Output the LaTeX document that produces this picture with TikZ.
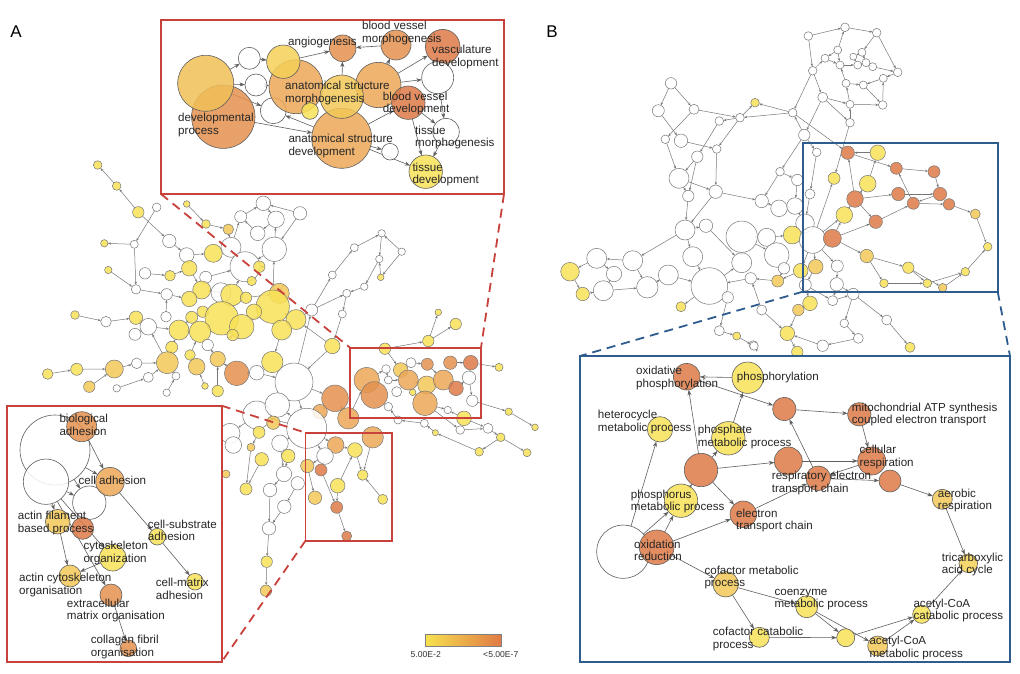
\documentclass[tikz,border=0pt]{standalone}
\usepackage{fontspec}
\setmainfont{Liberation Sans}
\usetikzlibrary{arrows.meta}
\definecolor{Y}{HTML}{F9E257}
\definecolor{YO}{HTML}{F3C858}
\definecolor{LO}{HTML}{ECA858}
\definecolor{O}{HTML}{E5914E}
\definecolor{DO}{HTML}{DE7B47}
\definecolor{W}{HTML}{FFFFFF}
\definecolor{edgec}{HTML}{777777}
\definecolor{redbox}{HTML}{C9413B}
\definecolor{bluebox}{HTML}{2E5C8E}
\pgfdeclarelayer{L1}\pgfdeclarelayer{L2}\pgfdeclarelayer{L3}\pgfdeclarelayer{L4}
\pgfsetlayers{L1,L2,L3,L4,main}
\tikzset{
  nd/.style={circle,draw=edgec,line width=0.5pt,inner sep=0pt,outer sep=0pt,fill opacity=0.85},
  ind/.style={circle,draw=edgec!80!black,line width=0.6pt,inner sep=0pt,outer sep=0pt,fill opacity=0.85},
  ed/.style={draw=edgec,line width=0.5pt,-{Stealth[length=3pt,width=2.4pt]}},
  ied/.style={draw=edgec!80!black,line width=0.6pt,-{Stealth[length=5.5pt,width=4pt]}},
  lab/.style={anchor=west,align=left,inner sep=0pt,text=black!85,font=\fontsize{11.6}{12.6}\selectfont},
  rbox/.style={draw=redbox,line width=1.8pt,inner sep=0pt,outer sep=0pt,anchor=north west},
  bbox/.style={draw=bluebox,line width=1.8pt,inner sep=0pt,outer sep=0pt,anchor=north west},
  rdash/.style={draw=redbox,line width=1.8pt,dash pattern=on 9pt off 6pt},
  bdash/.style={draw=bluebox,line width=1.8pt,dash pattern=on 9pt off 6pt}
}
\begin{document}
\begin{tikzpicture}[x=1pt,y=-1pt]
\useasboundingbox (0,0) rectangle (1020,673);
% ---------------- background networks: nodes ----------------
\begin{pgfonlayer}{L2}
\foreach \n/\x/\y/\r/\c in {
a1/97.7/165/4.3/Y, a2/116.7/186/4.3/Y, a3/138.3/212.3/5.7/Y, a4/156.7/207.3/4.3/W, a5/186.7/204/3.3/Y, a6/206/224/4.3/Y, a7/228.3/229.3/5.3/YO, a8/240.7/216.7/6/W, a9/263.3/203.3/7.3/W, a10/276/219.3/8.3/W, a11/257.7/233.3/7.3/W, a12/169.3/241/6.7/W, a13/104.3/243.3/3.7/Y, a14/134.3/244.3/4/W, a15/108.3/270/3.7/Y, a16/186.7/255/7.3/W, a17/213.3/253.3/9/Y, a18/231/247.3/10/W, a19/274.3/249.3/12.3/W, a20/189.3/268.3/7.7/Y, a21/245/266.7/15/W, a22/205.7/277.3/6/W, a23/145/273.3/5.7/W, a24/170/275.7/5.3/Y, a25/259.3/266.7/5.7/Y, a26/251.7/281/4.7/Y, a27/136/289.3/4.7/W, a28/166.7/294.3/5.7/W, a29/201.7/290/9/Y, a30/189.3/299/7.7/Y, a31/221/292.7/10/W, a32/231.7/295/11/Y, a33/246/297.7/5.7/Y, a34/279.3/293.3/10/YO, a35/272.7/306.7/16.7/Y, a36/75/315/4.3/Y, a37/106/321.7/5.3/W, a38/136/317.7/6.7/Y, a39/166/316.7/5.3/W, a40/191.7/317.3/6/Y, a41/202.7/311.7/5.7/Y, a42/221.7/318.3/16.7/Y, a43/254/311.7/7.7/Y, a44/241.7/326.7/12.3/Y, a45/296/319.5/10/Y, a46/148.3/326.7/8.3/W, a47/135/334.3/6/W, a48/179/330/10/Y, a49/200/331.7/10.7/Y, a50/232.7/335/5.7/Y, a51/281.7/330/10/Y, a52/207.7/345/5.7/W, a53/171.7/347.3/6/Y, a54/167.3/362.7/11/YO, a55/190/355/5.3/Y, a56/196.7/366.7/8.3/YO, a57/217.7/359/7.7/YO, a58/236.7/373.3/12.3/O, a59/256.7/372.7/7.3/W, a60/272.3/362/10.7/Y, a61/47.7/374/5.3/Y, a62/76.7/369.3/6/Y, a63/114.3/369/9/YO, a64/136.7/363.3/5.3/W, a65/148.3/377.3/5/W, a66/176/376/4/W, a67/89.3/386.7/5.7/YO, a68/116.7/388.3/3.7/W, a69/166.7/392.7/3.7/W, a70/205/386/3.3/Y, a71/217.7/391/5.7/Y, a72/294/382/19/W, a73/300/213.3/6.7/W, a74/381.7/233.3/3.7/W, a75/354.3/247.7/4/W, a76/401.7/251.7/3.7/W, a77/379.3/259/3.7/W, a78/380.7/277.3/3.3/Y, a79/332.3/275/4/W, a80/364.3/286.7/3.7/W, a81/346.7/293.3/4/W, a82/311.7/310/6/W, a83/342.3/314/4/W, a84/332.3/346/7.7/Y, a85/438.3/312.3/3.3/Y, a86/455.7/324/5.7/Y, a87/428.3/341/5.7/Y, a88/385/348.7/5.7/Y, a89/499/367.3/4/Y, a90/335/398.3/13.3/O, a91/320/411.7/7.3/LO, a92/348.3/418.3/10.7/LO, a93/464/418.3/7.3/Y, a94/508.7/411.7/3.7/Y, a95/535/427.3/3.3/Y, a96/256.7/415/14/W, a97/277.3/405/12.3/W, a98/230/433.3/10/W, a99/259/432.3/6/Y, a100/273.3/422.7/6.7/YO, a101/306.7/428.3/20/W, a102/233.3/445/8.3/W, a103/251/447.3/4/YO, a104/280/443.3/8.3/W, a105/335.7/445/8.3/LO, a106/325/456/8.3/W, a107/355/450/7.3/Y, a108/372.7/437.3/10.7/LO, a109/261.7/459.3/6.7/Y, a110/288.3/456/6.7/Y, a111/226/474/4/YO, a112/307.3/466/6.7/YO, a113/321/470/6/DO, a114/284/474/7.7/W, a115/297.7/483.3/6.7/W, a116/337.7/485.7/7.3/Y, a117/362.7/475/5.3/Y, a118/246/489/6/Y, a119/270/490/6.7/W, a120/315/497.7/6.7/YO, a121/382.7/499.3/5/Y, a122/336.7/507.3/6/DO, a123/284.3/506.7/6.7/W, a124/269/528.3/6.7/W, a125/346.7/536/5/DO, a126/266.7/561.7/5.7/Y, a127/266/590.7/5.7/YO, a128/366.7/380/12.7/LO, a129/374.3/395/13.3/O, a130/386/369/4.3/W, a131/388.3/380/4/W, a132/396.7/391.7/5/W, a133/400.7/370/7.3/YO, a134/408.3/380/10/LO, a135/411/362.7/5/W, a136/427.3/364.3/6/O, a137/412.7/392.3/3.3/Y, a138/426.7/385/9/YO, a139/425/403.3/12.3/LO, a140/388.3/406.7/4.3/W, a141/447.7/410/3.7/W, a142/450.3/362.7/6.7/O, a143/443.3/380/10/LO, a144/456/388.3/7.3/DO, a145/470.7/362.7/7.3/DO, a146/469/377.7/6.7/W, a147/472.3/400.7/5.7/W, a148/488/428.3/5/W, a149/500.7/437.3/4.3/Y, a150/479.2/451.7/4.3/Y, a151/527/452.7/4/Y, a152/460.2/430/4.3/W, a153/435.4/432.7/3/Y, a154/424.3/423.3/4/W, a155/398/420/4/W}
{\node[nd,fill=\c,minimum size=2*\r*1pt] (\n) at (\x,\y) {};}
\foreach \n/\x/\y/\r/\c in {
b1/845/27.3/4.3/W, b2/808.3/36/4.3/W, b3/876.7/32.7/4.3/W, b4/837.7/50/4/W, b5/862/52.3/4/W, b6/825/58.3/4/W, b7/840/65/4/W, b8/853.3/56.7/3.5/W, b9/857.7/65/4/W, b10/866/62.7/4/W, b11/872.7/66.7/4/W, b12/812.7/70.7/4.3/W, b13/897.7/72.3/4.3/W, b14/883.3/78.3/4/W, b15/846/83.3/4/W, b16/863.3/85/4/W, b17/822.7/97.3/5/W, b18/850/104.3/4/W, b19/882.7/105/4.3/W, b20/792.7/112.7/4.3/W, b21/755/102.7/4.3/Y, b22/740/117.7/4.3/W, b23/850/122.7/4.3/W, b24/804.3/135/5.7/W, b25/816.7/152.3/4.3/W, b26/847.7/152.7/6.7/DO, b27/877.7/152.7/7.7/Y, b28/896.3/168.3/6/DO, b29/934/171.7/6/DO, b30/780/171.7/4.3/W, b31/834/178.3/6/Y, b32/867.7/183.7/8.3/Y, b33/797.3/180/5.7/W, b34/810/194/5/W, b35/855/199/8.3/DO, b36/898.3/194/6.7/DO, b37/940/194/6.7/DO, b38/913.3/203.3/6/DO, b39/949/204.3/5.7/DO, b40/975.3/214/5/YO, b41/761.7/201/6.7/W, b42/779/208.3/8.3/W, b43/795/206/8.3/W, b44/844.3/215/8.3/Y, b45/875.7/221.7/6.7/DO, b46/805/223.3/9.3/W, b47/792.3/235/9/Y, b48/812.7/240/13.3/W, b49/832.3/238.3/9/DO, b50/766.7/237.3/9/W, b51/741.7/236.7/15.7/W, b52/776.7/255/12.3/W, b53/987.7/246.7/4.3/Y, b54/866.7/256/6.7/YO, b55/800.7/270.7/7.3/Y, b56/815.7/266.7/7.3/YO, b57/837.3/266/6/W, b58/784/268.3/5.7/W, b59/908.3/267.7/5.7/Y, b60/965.3/271.7/4.3/Y, b61/750.7/278.3/5.7/W, b62/777.7/281/6/YO, b63/805.3/285/6/W, b64/836.7/284.3/6.7/W, b65/884/283.3/4.3/Y, b66/927.3/283.3/4.3/Y, b67/942.7/287.7/4.3/YO, b68/853.3/294/5.7/W, b69/810/303.3/7.3/Y, b70/798.3/310/5.7/YO, b71/761.7/310/5/W, b72/886.7/320/5/W, b73/844.3/323.3/4.3/W, b74/787.3/333.3/7.3/Y, b75/822.7/345.7/5.7/W, b76/858.3/338.3/5/W, b77/910/347.3/5/Y, b78/797.3/352/5.7/Y, b79/753.3/345/4.3/W, b80/671/83.3/5.7/W, b81/658.3/110.7/6/W, b82/694/109.3/5/W, b83/719.3/121/4.3/W, b85/665.3/139.3/4.3/W, b86/681/140.7/6.7/W, b87/716.7/149/4.3/W, b89/697.3/156.7/5.7/W, b90/679/178.3/10/W, b91/715.7/191.7/6.7/W, b92/688.3/196/5.7/W, b94/570/271.7/9.3/Y, b95/582.7/294/6.7/Y, b96/596.7/258.3/10/W, b97/614/274/7.7/W, b98/603.3/290.7/10/W, b99/632.7/260.7/10/W, b100/647.3/287.3/10.7/W, b101/668.3/275/10/W, b102/685/230/10/W, b103/706/225.7/6.7/W, b104/692.7/256.7/10/W, b105/709.3/286/18.3/W, b106/681/306.7/5/Y, b107/741.7/262.7/10/W, b108/727.7/297.3/5.7/W, b109/719.3/330.7/5/W, b110/736.7/336/4/Y, b111/754/346/4.3/W, b112/832.7/300.7/5/W}
{\node[nd,fill=\c,minimum size=2*\r*1pt] (\n) at (\x,\y) {};}
\end{pgfonlayer}
% ---------------- background networks: edges ----------------
\begin{pgfonlayer}{L1}
\fill[white] (0,0) rectangle (1020,673);
\foreach \a/\b in {a2/a1, a3/a2, a3/a12, a4/a14, a14/a13, a14/a27, a15/a27, a5/a6, a6/a7, a7/a18, a8/a9, a9/a10, a10/a11, a11/a8, a12/a16, a16/a17, a17/a18, a18/a8, a18/a21, a19/a10, a19/a21, a16/a20, a20/a29, a23/a24, a24/a20, a22/a21, a22/a29, a25/a21, a26/a21, a28/a30, a27/a28, a29/a31, a31/a32, a32/a21, a33/a34, a34/a35, a35/a19, a36/a37, a37/a38, a38/a46, a39/a28, a40/a48, a41/a42, a42/a32, a42/a44, a43/a35, a44/a35, a45/a35, a46/a47, a46/a48, a48/a49, a49/a42, a50/a44, a51/a35, a51/a60, a52/a49, a53/a48, a54/a46, a54/a53, a55/a49, a56/a55, a57/a52, a58/a57, a58/a59, a59/a72, a60/a72, a61/a62, a62/a63, a63/a64, a64/a54, a65/a54, a66/a54, a67/a63, a68/a65, a69/a66, a70/a56, a71/a57, a72/a82, a73/a19, a82/a79, a82/a81, a79/a75, a75/a74, a74/a77, a77/a80, a80/a81, a81/a83, a83/a84, a76/a74, a76/a78, a78/a77, a84/a72, a88/a87, a87/a85, a87/a86, a72/a90, a90/a92, a90/a91, a72/a101, a101/a96, a101/a97, a96/a99, a97/a100, a101/a104, a101/a105, a101/a106, a99/a103, a102/a98, a104/a110, a106/a112, a106/a113, a105/a107, a108/a117, a112/a120, a113/a122, a122/a125, a116/a107, a114/a119, a115/a123, a119/a124, a123/a124, a124/a126, a126/a127, a109/a118, a103/a118, a110/a114, a121/a117, a92/a128, a128/a129, a128/a130, a130/a131, a131/a134, a133/a134, a134/a138, a135/a136, a136/a143, a138/a139, a139/a141, a142/a145, a143/a144, a144/a146, a146/a145, a146/a147, a145/a89, a147/a94, a94/a95, a139/a152, a152/a148, a148/a149, a149/a151, a149/a150, a150/a153, a153/a154, a154/a155, a155/a140, a140/a129, a93/a141, a93/a148, a88/a133, a84/a45, a73/a9, a82/a45, a96/a98, a97/a72, a104/a114, a116/a122, a107/a117}
{\draw[ed] (\a) -- (\b);}
\foreach \a/\b in {b2/b1, b1/b3, b3/b5, b2/b12, b4/b1, b4/b6, b5/b8, b6/b7, b7/b9, b8/b9, b9/b10, b10/b11, b11/b13, b3/b13, b13/b14, b14/b16, b12/b17, b12/b20, b15/b7, b15/b16, b17/b18, b18/b15, b18/b19, b19/b14, b16/b19, b17/b23, b23/b18, b12/b6, b5/b10, b4/b7, b20/b21, b22/b21, b20/b22, b22/b83, b22/b87, b80/b81, b80/b82, b82/b85, b81/b86, b82/b22, b83/b89, b86/b87, b85/b90, b89/b90, b87/b91, b90/b91, b90/b92, b89/b92, b91/b102, b102/b104, b102/b99, b99/b96, b96/b94, b94/b95, b95/b98, b96/b97, b97/b98, b98/b100, b99/b100, b100/b101, b101/b105, b104/b105, b103/b107, b105/b107, b105/b108, b105/b106, b102/b103, b107/b51, b51/b50, b50/b47, b47/b48, b51/b52, b52/b58, b58/b62, b62/b61, b61/b105, b108/b109, b109/b110, b110/b111, b111/b79, b71/b61, b71/b74, b24/b30, b30/b41, b30/b33, b33/b43, b41/b42, b42/b43, b43/b46, b46/b48, b34/b46, b25/b34, b24/b25, b20/b26, b23/b31, b48/b31, b27/b26, b26/b28, b28/b29, b29/b37, b32/b27, b35/b26, b35/b32, b35/b36, b35/b45, b36/b37, b38/b28, b37/b38, b38/b39, b39/b40, b40/b53, b45/b38, b49/b45, b49/b44, b48/b49, b44/b35, b48/b44, b49/b54, b54/b59, b54/b65, b65/b66, b59/b66, b59/b67, b66/b60, b67/b60, b60/b53, b48/b56, b48/b55, b56/b63, b55/b62, b63/b69, b57/b64, b64/b68, b68/b72, b72/b77, b68/b73, b69/b70, b70/b74, b74/b78, b73/b76, b75/b74, b76/b75, b63/b112, b112/b68, b48/b57, b64/b112, b24/b20, b17/b24, b91/b41, b92/b102}
{\draw[ed] (\a) -- (\b);}
\end{pgfonlayer}
% ---------------- boxes and dashed connectors ----------------
\begin{pgfonlayer}{L3}
\node[rbox,fill=white,minimum width=343pt,minimum height=174pt] (boxT) at (161,20) {};
\node[rbox,minimum width=131pt,minimum height=70.6pt] (boxM) at (350,347.7) {};
\node[rbox,minimum width=86.5pt,minimum height=108pt] (boxS) at (305.5,432.7) {};
\node[rbox,fill=white,minimum width=215pt,minimum height=256pt] (boxL) at (6.7,405.7) {};
\node[bbox,minimum width=195pt,minimum height=148.4pt] (boxBs) at (802.7,143.3) {};
\node[bbox,fill=white,minimum width=430pt,minimum height=306.3pt] (boxBi) at (580,356) {};
\draw[rdash] (boxT.south west) -- (boxM.north west);
\draw[rdash] (boxT.south east) -- (boxM.north east);
\draw[rdash] (boxL.north east) -- (boxS.north west);
\draw[rdash] (boxS.south west) -- (boxL.south east);
\draw[bdash] (boxBs.south west) -- (boxBi.north west);
\draw[bdash] (boxBs.south east) -- (boxBi.north east);
\end{pgfonlayer}
% ---------------- inset: top (A) ----------------
\foreach \n/\x/\y/\r/\c in {
tDpO/223.3/116.7/31.7/O, tDpY/205.7/83.3/28/YO!75!LO, tW1/249.3/58.3/11/W, tW2/256/85/11/W, tW3/273.3/110.7/13/W, tAmB/296/86.7/27/LO, tY1/283.3/61.7/16.7/YO!70!Y, tYs/310/111/8.3/Y, tAsd/341.7/138.3/30/LO, tRb/378.3/85/22.7/LO, tAm/341.7/96.7/21.7/YO, tAng/342.7/48.3/13.3/O, tBvm/396/45/15/O, tVas/442.7/46.7/17.3/DO, tW4/437.7/77.7/16/W, tBvd/408.3/102.7/16.7/DO, tW5/390/151.7/8.3/W, tTm/446/131.7/13.3/W, tTd/425.7/171.7/16.7/Y}
{\node[ind,fill=\c,minimum size=2*\r*1pt] (\n) at (\x,\y) {};}
% ---------------- inset: bottom left (A) ----------------
\foreach \n/\x/\y/\r/\c in {
lBw/55/450/35/W, lW2/46/481.7/22.7/W, lW3/89.3/502.7/16.7/W, lBa/81.7/426.7/15/O, lCa/110/481.7/14.3/LO, lAf/57.7/521.7/12.3/YO, lO1/82.7/528.3/11/DO, lCo/112.7/557.7/13.3/Y, lCs/157.3/536.7/8.3/Y, lAco/70/576/11/YO, lCm/195/581.7/8.3/Y, lEc/111/595/11/O, lCf/128.3/648.3/8.3/O}
{\node[ind,fill=\c,minimum size=2*\r*1pt] (\n) at (\x,\y) {};}
% ---------------- inset: B ----------------
\foreach \n/\x/\y/\r/\c in {
rWb/623.3/551.7/26.7/W, rOxp/686.7/376.7/13.3/DO, rPh/747.7/377.7/15.7/Y, rO1/784.3/409/11.7/DO, rMito/859.3/414.3/11.7/DO, rHet/660/429.3/12.7/Y, rPmp/728.3/438.3/16.7/Y, rO2/701/470/16.7/DO, rO3/788.3/461/14/DO, rCr/871.7/461/14/DO, rRetc/818.3/478.3/12.3/DO, rO4/890/481/11/DO, rAer/942.3/499.3/10/YO, rPhos/681/500.7/16.7/Y, rEtc/743.3/514.3/13.3/DO, rOxr/656.7/547.3/17.3/DO, rCfm/725.7/584.3/12.7/YO, rTca/968.3/563.3/9.3/YO!60!Y, rCoe/806.7/606.7/11/Y, rAcc/921.7/614.3/9/Y, rCfc/759.3/637.3/10/Y, rY1/845.7/637.7/9/Y, rAcm/877.7/646/10/YO}
{\node[ind,fill=\c,minimum size=2*\r*1pt] (\n) at (\x,\y) {};}
% ---------------- inset edges ----------------
\begin{pgfonlayer}{L4}
\foreach \a/\b in {tDpY/tW1, tDpY/tW2, tDpY/tW3, tDpO/tAsd, tW2/tAmB, tW1/tY1, tAsd/tW3, tY1/tAng, tAm/tAng, tBvm/tAng, tRb/tBvm, tRb/tVas, tRb/tW4, tAsd/tBvd, tAsd/tTd, tBvd/tTm, tBvd/tTd, tAsd/tW5, tW4/tTm, tTm/tTd, tAsd/tAm, tAm/tRb,
lBa/lCa, lBw/lCa, lBw/lW3, lW2/lW3, lW2/lAf, lW2/lCo, lAf/lAco, lCo/lAco, lW2/lEc, lCa/lCs, lCs/lCm, lEc/lCf,
rPh/rOxp, rOxp/rO1, rO1/rMito, rMito/rCr, rPmp/rPh, rO2/rOxp, rO2/rPmp, rO2/rO3, rO2/rEtc, rO3/rCr, rRetc/rO1, rCr/rRetc, rRetc/rO4, rO4/rAer, rAer/rTca, rEtc/rRetc, rOxr/rEtc, rOxr/rPhos, rWb/rPhos, rWb/rHet, rPhos/rO2, rOxr/rCfm, rCfm/rCoe, rCfm/rCfc, rCfc/rY1, rCoe/rY1, rCoe/rAcm, rY1/rAcc, rAcm/rAcc, rAcc/rTca}
{\draw[ied] (\a) -- (\b);}
\end{pgfonlayer}
% ---------------- labels ----------------
\node[lab] (tl1) at (288,42.7) {angiogenesis};
\node[lab] (tl2) at (362,33) {blood vessel\\morphogenesis};
\node[lab] (tl3) at (432,56.7) {vasculature\\development};
\node[lab] (tl4) at (285,92.7) {anatomical structure\\morphogenesis};
\node[lab] (tl5) at (382.7,103.3) {blood vessel\\development};
\node[lab] (tl6) at (178,125) {developmental\\process};
\node[lab] (tl7) at (415,137.3) {tissue\\morphogenesis};
\node[lab] (tl8) at (288.3,146.2) {anatomical structure\\development};
\node[lab] (tl9) at (412.3,174.5) {tissue\\development};
\node[lab] (ll1) at (59.3,425) {biological\\adhesion};
\node[lab] (ll2) at (78.3,480.7) {cell adhesion};
\node[lab] (ll3) at (17.7,523) {actin filament\\based process};
\node[lab] (ll4) at (83.3,553) {cytoskeleton\\organization};
\node[lab] (ll5) at (147.7,530.3) {cell-substrate\\adhesion};
\node[lab] (ll6) at (19,584.7) {actin cytoskeleton\\organisation};
\node[lab] (ll7) at (155.7,588.8) {cell-matrix\\adhesion};
\node[lab] (ll8) at (66.7,610.3) {extracellular\\matrix organisation};
\node[lab] (ll9) at (90.7,647) {collagen fibril\\organisation};
\node[lab] (rl1) at (636,378) {oxidative\\phosphorylation};
\node[lab] (rl2) at (736.7,377) {phosphorylation};
\node[lab] (rl3) at (597.7,422.2) {heterocycle\\metabolic process};
\node[lab,font=\fontsize{11.6}{10.5}\selectfont] (rl4) at (851.7,414.2) {mitochondrial ATP synthesis\\coupled electron transport};
\node[lab] (rl5) at (697.7,437.2) {phosphate\\metabolic process};
\node[lab] (rl6) at (859.3,457.2) {cellular\\respiration};
\node[lab] (rl7) at (771.7,483) {respiratory electron\\transport chain};
\node[lab] (rl8) at (937.7,500.5) {aerobic\\respiration};
\node[lab] (rl9) at (630.7,501.3) {phosphorus\\metabolic process};
\node[lab] (rl10) at (736,520.3) {electron\\transport chain};
\node[lab] (rl11) at (634,550.3) {oxidation\\reduction};
\node[lab] (rl12) at (704.3,577.5) {cofactor metabolic\\process};
\node[lab] (rl13) at (941.7,564.5) {tricarboxylic\\acid cycle};
\node[lab] (rl14) at (774.3,599.5) {coenzyme\\metabolic process};
\node[lab] (rl15) at (913.3,610.5) {acetyl-CoA\\catabolic process};
\node[lab] (rl16) at (712.7,638.7) {cofactor catabolic\\process};
\node[lab] (rl17) at (869.3,647.8) {acetyl-CoA\\metabolic process};
% panel letters
\node[inner sep=0pt,font=\fontsize{17}{17}\selectfont] (pA) at (16,32) {A};
\node[inner sep=0pt,font=\fontsize{17}{17}\selectfont] (pB) at (552,32) {B};
% colour bar
\node[draw=gray,line width=0.5pt,inner sep=0pt,minimum width=75.7pt,minimum height=12pt,left color={rgb,255:red,246;green,226;blue,78},middle color={rgb,255:red,240;green,184;blue,70},right color={rgb,255:red,224;green,122;blue,69}] (cbar) at (463,640) {};
\node[inner sep=0pt,font=\fontsize{8.6}{9}\selectfont,text=black!80] (cb1) at (425.8,654.3) {5.00E-2};
\node[inner sep=0pt,font=\fontsize{8.6}{9}\selectfont,text=black!80] (cb2) at (500.8,654.3) {<5.00E-7};
\end{tikzpicture}
\end{document}
